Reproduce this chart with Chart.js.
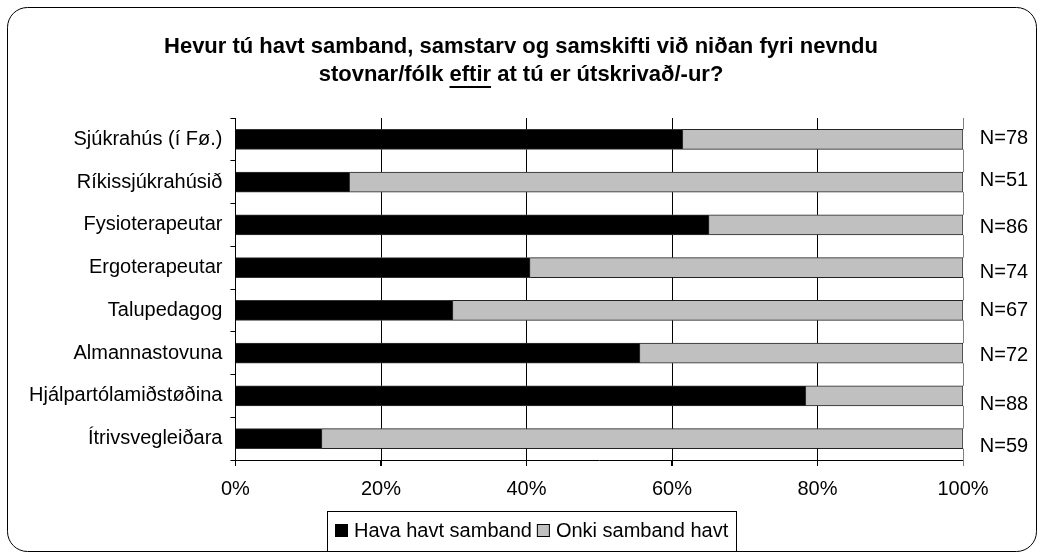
<!DOCTYPE html>
<html>
<head>
<meta charset="utf-8">
<script src="https://cdn.jsdelivr.net/npm/chart.js"></script>
<style>
  body { margin: 0; background: #fff; }
</style>
</head>
<body>
<canvas id="myChart" width="1042" height="556"></canvas>

<script>
  const categories = ['Sjúkrahús (í Fø.)', 'Ríkissjúkrahúsið', 'Fysioterapeutar', 'Ergoterapeutar',
    'Talupedagog', 'Almannastovuna', 'Hjálpartólamiðstøðina', 'Ítrivsvegleiðara'];
  const havaSamband = [61.5, 15.7, 65.1, 40.5, 29.9, 55.6, 78.4, 11.9];
  const onkiSamband = [38.5, 84.3, 34.9, 59.5, 70.1, 44.4, 21.6, 88.1];
  const nLabels = ['N=78', 'N=51', 'N=86', 'N=74', 'N=67', 'N=72', 'N=88', 'N=59'];
  const xTickLabels = ['0%', '20%', '40%', '60%', '80%', '100%'];

  const FONT = '"Liberation Sans", Arial, sans-serif';
  const BAR = 20;
  // Excel text boxes don't sit exactly on the bars
  const nNudge = [-1, -2, 3, 5, 0, 2, 9, 8];

  const frame = {
    id: 'frame',
    beforeDraw(chart) {
      const c = chart.ctx;
      c.save();
      c.beginPath();
      c.roundRect(7.5, 7.5, 1029, 544, 20);
      c.strokeStyle = '#000';
      c.lineWidth = 1;
      c.stroke();
      c.restore();
    },
    afterDraw(chart) {
      const c = chart.ctx;
      const area = chart.chartArea;
      const xs = chart.scales.x;
      const ys = chart.scales.y;
      c.save();

      // vertical gridlines, drawn only in the gaps between the bars
      c.lineWidth = 1;
      [20, 40, 60, 80, 100].forEach(v => {
        const px = Math.round(xs.getPixelForValue(v)) + 0.5;
        c.strokeStyle = v === 100 ? '#808080' : '#000';
        let y0 = area.top;
        for (let i = 0; i < categories.length; i++) {
          const cy = ys.getPixelForValue(i);
          const top = cy - BAR / 2;
          if (top > y0) {
            c.beginPath();
            c.moveTo(px, y0);
            c.lineTo(px, top);
            c.stroke();
          }
          y0 = cy + BAR / 2;
        }
        c.beginPath();
        c.moveTo(px, y0);
        c.lineTo(px, area.bottom + 6);
        c.stroke();
      });

      c.fillStyle = '#000';
      c.font = 'bold 22px ' + FONT;
      c.textAlign = 'center';
      c.textBaseline = 'middle';
      const cx = 521;
      c.fillText('Hevur tú havt samband, samstarv og samskifti við niðan fyri nevndu', cx, 47);
      // second line, "eftir" underlined
      const a = 'stovnar/fólk ', b = 'eftir', d = ' at tú er útskrivað/-ur?';
      const wa = c.measureText(a).width, wb = c.measureText(b).width, wd = c.measureText(d).width;
      let x = cx - (wa + wb + wd) / 2;
      c.textAlign = 'left';
      c.fillText(a, x, 75);
      c.fillText(b, x + wa, 75);
      c.fillText(d, x + wa + wb, 75);
      c.fillRect(x + wa, 86, wb, 2);

      // N labels
      c.font = '20px ' + FONT;
      c.textAlign = 'center';
      nLabels.forEach((t, i) => {
        c.fillText(t, area.right + 41, ys.getPixelForValue(i) + nNudge[i]);
      });

      // legend, boxed, centred a bit right of the plot like the original
      const ds = chart.data.datasets;
      const widths = ds.map(s => c.measureText(s.label).width);
      const sq = 13, gapIn = 6, gapOut = 5, pad = 8;
      const total = pad * 2 + ds.length * (sq + gapIn) + widths.reduce((p, q) => p + q, 0) + gapOut * (ds.length - 1);
      let lx = Math.round(532 - total / 2);
      c.strokeStyle = '#000';
      c.lineWidth = 1;
      c.strokeRect(lx + 0.5, 511.5, Math.round(total), 40);
      let ix = lx + pad;
      const ly = 531;
      c.textAlign = 'left';
      ds.forEach((s, i) => {
        c.fillStyle = s.backgroundColor;
        c.fillRect(ix, ly - 7, sq, sq);
        c.strokeStyle = '#000';
        c.strokeRect(ix + 0.5, ly - 6.5, sq - 1, sq - 1);
        c.fillStyle = '#000';
        c.fillText(s.label, ix + sq + gapIn, ly);
        ix += sq + gapIn + widths[i] + gapOut;
      });
      c.restore();
    }
  };

  const ctx = document.getElementById('myChart').getContext('2d');
  new Chart(ctx, {
    type: 'bar',
    data: {
      labels: categories,
      datasets: [{
        label: 'Hava havt samband',
        data: havaSamband,
        backgroundColor: '#000',
        borderColor: '#333',
        borderWidth: 1,
        barThickness: BAR
      }, {
        label: 'Onki samband havt',
        data: onkiSamband,
        backgroundColor: '#c0c0c0',
        borderColor: '#222',
        borderWidth: 1,
        barThickness: BAR
      }]
    },
    options: {
      indexAxis: 'y',
      responsive: false,
      animation: false,
      layout: { padding: { top: 118, right: 79, left: 21, bottom: 44 } },
      scales: {
        x: {
          stacked: true,
          min: 0,
          max: 100,
          ticks: {
            stepSize: 20,
            color: '#000',
            font: { family: FONT, size: 20 },
            callback: (v, i) => xTickLabels[i],
            padding: 11
          },
          grid: {
            color: '#000',
            lineWidth: 1,
            tickLength: 6,
            drawOnChartArea: false
          },
          border: { color: '#000' }
        },
        y: {
          stacked: true,
          ticks: {
            color: '#000',
            font: { family: FONT, size: 20 },
            padding: 8
          },
          grid: {
            offset: true,
            drawOnChartArea: false,
            tickLength: 5,
            color: '#000'
          },
          border: { color: '#000' }
        }
      },
      plugins: {
        legend: { display: false },
        title: { display: false },
        tooltip: { enabled: false }
      }
    },
    plugins: [frame]
  });
</script>
</body>
</html>
